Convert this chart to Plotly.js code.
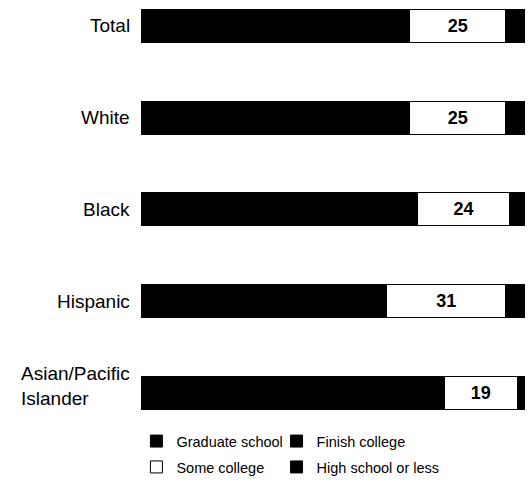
<!DOCTYPE html>
<html>
<head>
<meta charset="utf-8">
<script src="https://cdn.plot.ly/plotly-3.0.1.min.js"></script>
<style>html,body{margin:0;padding:0;background:#fff;}#chart{width:530px;height:488px;}</style>
</head>
<body>
<div id="chart"></div>
<script>
const categories = ["Total", "White", "Black", "Hispanic", "Asian/Pacific Islander"];
const categoryLabels = ["Total", "White", "Black", "Hispanic", "Asian/Pacific<br>Islander"];
const graduateSchool = [31, 31, 33, 27, 37];
const finishCollege = [39, 39, 39, 37, 42];
const someCollege = [25, 25, 24, 31, 19];
const highSchoolOrLess = [5, 5, 4, 5, 2];

const FONT = "Liberation Sans, Arial, Helvetica, sans-serif";
const barWidth = 0.36;
const line = {color: "#000", width: 1};

const traces = [
  {name: "Graduate school", x: graduateSchool, marker: {color: "#000000", line: line}, legend: "legend", legendgroup: "g1"},
  {name: "Finish college", x: finishCollege, marker: {color: "#000000", line: line}, legend: "legend2", legendgroup: "g2"},
  {name: "Some college", x: someCollege, marker: {color: "#ffffff", line: line}, legend: "legend", legendgroup: "g3",
   text: someCollege.map(String), textposition: "inside", insidetextanchor: "middle",
   textfont: {family: FONT, size: 18, color: "#000", weight: "bold"}},
  {name: "High school or less", x: highSchoolOrLess, marker: {color: "#000000", line: line}, legend: "legend2", legendgroup: "g4"}
].map(t => Object.assign({
  type: "bar", orientation: "h", y: categories, width: barWidth,
  hoverinfo: "skip", textposition: "none"
}, t));

const annotations = categories.map((c, i) => ({
  x: 0, xref: "paper", y: c, yref: "y",
  xanchor: "right", yanchor: "middle", xshift: -9,
  yshift: i === 4 ? 7 : 0,
  align: "left", showarrow: false,
  text: categoryLabels[i],
  font: {family: FONT, size: 19, color: "#000"}
}));

const legendStyle = {
  orientation: "v", traceorder: "grouped",
  font: {family: FONT, size: 14.5, color: "#000"},
  bgcolor: "rgba(0,0,0,0)", borderwidth: 0,
  xanchor: "left", yanchor: "top", y: -0.022, tracegroupgap: 4
};

const layout = {
  width: 530, height: 488,
  margin: {l: 141, r: 5, t: 0, b: 72},
  paper_bgcolor: "#fff", plot_bgcolor: "#fff",
  barmode: "stack",
  showlegend: true,
  xaxis: {range: [0, 100], visible: false, fixedrange: true},
  yaxis: {type: "category", categoryorder: "array", categoryarray: categories,
          range: [4.25, -0.28], visible: false, fixedrange: true},
  legend: Object.assign({}, legendStyle, {x: -0.012}),
  legend2: Object.assign({}, legendStyle, {x: 0.353}),
  annotations: annotations
};

Plotly.newPlot("chart", traces, layout, {displayModeBar: false, staticPlot: true});
</script>
</body>
</html>
